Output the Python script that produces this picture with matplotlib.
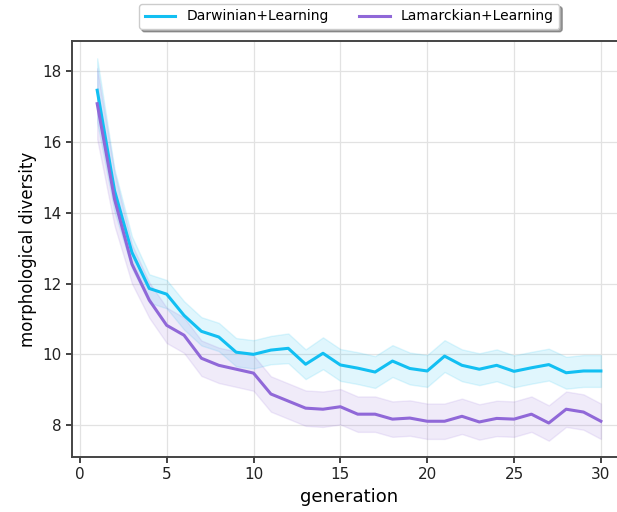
import matplotlib
matplotlib.use("Agg")
import matplotlib.pyplot as plt
import numpy as np

# Mean morphological diversity per generation, with spread across runs
generations = list(range(1, 31))

darwin_mean = [17.46, 14.62, 12.88, 11.86, 11.70, 11.10, 10.65, 10.49, 10.06, 10.00,
               10.12, 10.17, 9.72, 10.03, 9.70, 9.61, 9.50, 9.81, 9.60, 9.53,
               9.95, 9.69, 9.58, 9.69, 9.52, 9.62, 9.71, 9.48, 9.53, 9.53]
darwin_std = [0.90, 0.60, 0.45, 0.40, 0.40, 0.40, 0.40, 0.40, 0.40, 0.40,
              0.40, 0.42, 0.42, 0.45, 0.45, 0.45, 0.45, 0.45, 0.45, 0.45,
              0.45, 0.45, 0.45, 0.45, 0.45, 0.45, 0.45, 0.45, 0.45, 0.45]

lamarck_mean = [17.08, 14.38, 12.55, 11.53, 10.82, 10.54, 9.89, 9.69, 9.58, 9.47,
                8.88, 8.68, 8.48, 8.45, 8.52, 8.31, 8.31, 8.17, 8.20, 8.11,
                8.11, 8.25, 8.09, 8.19, 8.17, 8.31, 8.06, 8.45, 8.37, 8.11]
lamarck_std = [1.00, 0.75, 0.55, 0.50, 0.50, 0.50, 0.50, 0.50, 0.50, 0.50,
               0.50, 0.50, 0.50, 0.50, 0.50, 0.50, 0.50, 0.50, 0.50, 0.50,
               0.50, 0.50, 0.50, 0.50, 0.50, 0.50, 0.50, 0.50, 0.50, 0.50]

series_labels = ["Darwinian+Learning", "Lamarckian+Learning"]
series_colors = ["#12bff2", "#9068d8"]

fig = plt.figure(figsize=(6.17, 5.12), dpi=100)
ax = fig.add_axes([0.1167, 0.1074, 0.898, 0.8125])

for mean, std, label, color in zip(
    [darwin_mean, lamarck_mean], [darwin_std, lamarck_std], series_labels, series_colors
):
    mean = np.array(mean)
    std = np.array(std)
    ax.fill_between(generations, mean - std, mean + std, color=color, alpha=0.13, linewidth=1)
    ax.plot(generations, mean, color=color, linewidth=2.2, label=label)

ax.set_xlim(-0.45, 31.45)
ax.set_ylim(7.1, 18.85)
ax.set_xticks([0, 5, 10, 15, 20, 25, 30])
ax.set_yticks([8, 10, 12, 14, 16, 18])
ax.grid(True, color="#e2e2e2", linewidth=0.9)
ax.set_axisbelow(True)
for side in ["left", "bottom", "top"]:
    ax.spines[side].set_color("#444444")
    ax.spines[side].set_linewidth(1.4)
ax.spines["right"].set_visible(False)
ax.tick_params(labelsize=11, width=1.2, length=4, colors="#222222")

ax.set_xlabel("generation", fontsize=13)
ax.set_ylabel("morphological diversity", fontsize=12)

fig.legend(loc="upper center", bbox_to_anchor=(0.566, 1.006), ncol=2,
           fontsize=10, frameon=True, shadow=True, fancybox=True,
           columnspacing=2.2, handlelength=2.2)

fig.savefig("out.png", dpi=100)
plt.close(fig)
